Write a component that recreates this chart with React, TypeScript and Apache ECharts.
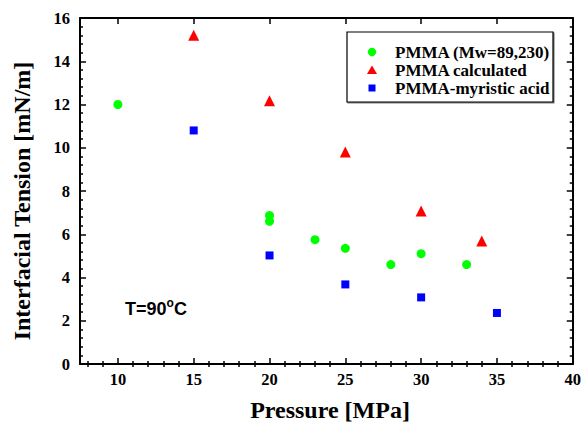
import React, { useEffect, useRef } from "react";
import * as echarts from "echarts";

const seriesNames = ["PMMA (Mw=89,230)", "PMMA calculated", "PMMA-myristic acid"];
const pmmaMeasured: [number, number][] = [
  [10, 12.0], [20, 6.87], [20, 6.6], [23, 5.75], [25, 5.35], [28, 4.6], [30, 5.1], [33, 4.6],
];
const pmmaCalculated: [number, number][] = [
  [15, 15.2], [20, 12.17], [25, 9.8], [30, 7.07], [34, 5.69],
];
const pmmaMyristic: [number, number][] = [
  [15, 10.8], [20, 5.02], [25, 3.68], [30, 3.08], [35, 2.36],
];
const xMajorTicks = [10, 15, 20, 25, 30, 35, 40];
const xMinorTicks = [8, 9, 11, 12, 13, 14, 16, 17, 18, 19, 21, 22, 23, 24, 26, 27, 28, 29, 31, 32, 33, 34, 36, 37, 38, 39];
const xTitle = "Pressure [MPa]";
const yTitle = "Interfacial Tension [mN/m]";

const SERIF = "'Liberation Serif', 'Times New Roman', serif";
const SANS = "'Liberation Sans', Arial, sans-serif";
const colors = ["#00ff00", "#ff0000", "#0000ff"];
const symbols = ["circle", "triangle", "rect"];
const sizes = [9, 11, 8];

export default function App() {
  const ref = useRef<HTMLDivElement>(null);
  useEffect(() => {
    if (!ref.current) return;
    const chart = echarts.init(ref.current, null, { renderer: "svg" });
    const lineStyle = { color: "#000", width: 2 };
    const tickBase = { show: true, inside: true, lineStyle: { color: "#000", width: 1.5 } };
    const xCommon = { type: "value", min: 7.5, max: 40, splitLine: { show: false } };
    const yCommon = { type: "value", min: 0, max: 16, interval: 2, splitLine: { show: false } };
    const data = [pmmaMeasured, pmmaCalculated, pmmaMyristic];
    const legendRows = [52, 70, 88];
    const legendGraphics: any[] = [
      {
        type: "rect",
        shape: { x: 347, y: 32, width: 206, height: 70 },
        style: { fill: "#fff", stroke: "#000", lineWidth: 1.2, shadowColor: "rgba(0,0,0,0.5)", shadowOffsetX: 1, shadowOffsetY: 1, shadowBlur: 0 },
        z: 10,
      },
    ];
    seriesNames.forEach((n, i) => {
      const cy = legendRows[i];
      if (i === 0) {
        legendGraphics.push({ type: "circle", shape: { cx: 372, cy, r: 4.2 }, style: { fill: colors[0] }, z: 11 });
      } else if (i === 1) {
        legendGraphics.push({ type: "polygon", shape: { points: [[372, cy - 4.5], [377, cy + 4], [367, cy + 4]] }, style: { fill: colors[1] }, z: 11 });
      } else {
        legendGraphics.push({ type: "rect", shape: { x: 368.5, y: cy - 3.5, width: 7, height: 7 }, style: { fill: colors[2] }, z: 11 });
      }
      legendGraphics.push({
        type: "text",
        x: 395,
        y: cy,
        style: { text: n, font: `bold 17px ${SERIF}`, fill: "#000", verticalAlign: "middle" },
        z: 11,
      });
    });

    chart.setOption({
      animation: false,
      backgroundColor: "#fff",
      grid: { left: 80, right: 11, top: 18, bottom: 59, containLabel: false },
      xAxis: [
        {
          ...xCommon,
          position: "bottom",
          axisLine: { show: true, onZero: false, lineStyle },
          axisTick: { ...tickBase, length: 6, customValues: xMajorTicks },
          axisLabel: { show: true, customValues: xMajorTicks, margin: 7, fontFamily: SERIF, fontWeight: "bold", fontSize: 16.5, color: "#000" },
        },
        {
          ...xCommon,
          position: "bottom",
          axisLine: { show: false },
          axisTick: { ...tickBase, length: 3, customValues: xMinorTicks },
          axisLabel: { show: false },
        },
        {
          ...xCommon,
          position: "top",
          axisLine: { show: true, onZero: false, lineStyle },
          axisTick: { ...tickBase, length: 6, customValues: xMajorTicks },
          axisLabel: { show: false },
        },
        {
          ...xCommon,
          position: "top",
          axisLine: { show: false },
          axisTick: { ...tickBase, length: 3, customValues: xMinorTicks },
          axisLabel: { show: false },
        },
      ],
      yAxis: [
        {
          ...yCommon,
          position: "left",
          axisLine: { show: true, onZero: false, lineStyle },
          axisTick: { ...tickBase, length: 6 },
          minorTick: { show: true, splitNumber: 5, length: 3, lineStyle: { color: "#000", width: 1.5 } },
          axisLabel: { show: true, margin: 10, fontFamily: SERIF, fontWeight: "bold", fontSize: 16.5, color: "#000" },
        },
        {
          ...yCommon,
          position: "right",
          axisLine: { show: true, onZero: false, lineStyle },
          axisTick: { ...tickBase, length: 6 },
          minorTick: { show: true, splitNumber: 5, length: 3, lineStyle: { color: "#000", width: 1.5 } },
          axisLabel: { show: false },
        },
      ],
      series: data.map((d, i) => ({
        name: seriesNames[i],
        type: "scatter",
        xAxisIndex: 0,
        yAxisIndex: 0,
        data: d,
        symbol: symbols[i],
        symbolSize: sizes[i],
        itemStyle: { color: colors[i], opacity: 1 },
        z: 5,
      })),
      graphic: [
        {
          type: "text",
          x: 22,
          y: 201,
          rotation: Math.PI / 2,
          style: { text: yTitle, font: `bold 24px ${SERIF}`, fill: "#000", align: "center", verticalAlign: "middle" },
        },
        {
          type: "text",
          x: 330,
          y: 410,
          style: { text: xTitle, font: `bold 24px ${SERIF}`, fill: "#000", align: "center", verticalAlign: "middle" },
        },
        {
          type: "text",
          x: 125,
          y: 309,
          style: { text: "T=90", font: `bold 18px ${SANS}`, fill: "#000", verticalAlign: "middle" },
        },
        {
          type: "text",
          x: 166.5,
          y: 303,
          style: { text: "o", font: `bold 12px ${SANS}`, fill: "#000", verticalAlign: "middle" },
        },
        {
          type: "text",
          x: 174,
          y: 309,
          style: { text: "C", font: `bold 18px ${SANS}`, fill: "#000", verticalAlign: "middle" },
        },
        ...legendGraphics,
      ],
    });
    return () => chart.dispose();
  }, []);
  return <div ref={ref} style={{ width: 584, height: 423, position: "absolute", left: 0, top: 0 }} />;
}
